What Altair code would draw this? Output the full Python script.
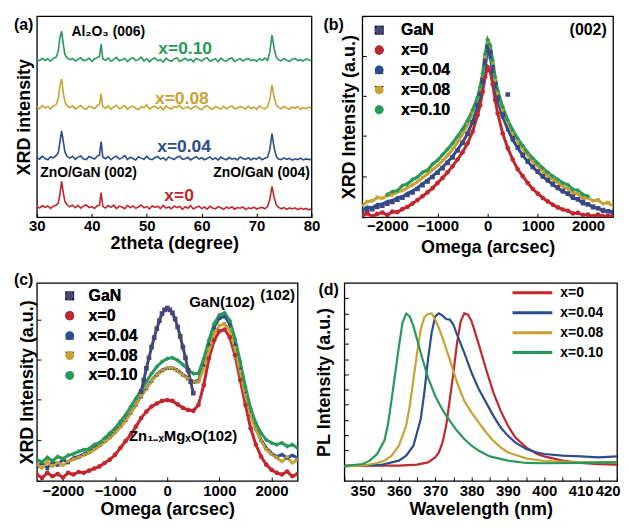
import math
import altair as alt
import pandas as pd

FONT = "Liberation Sans"
SERIES = ["GaN", "x=0", "x=0.04", "x=0.08", "x=0.10"]
COLORS = ["#46467a", "#c1272d", "#2b4c8f", "#c9a233", "#27995a"]
SHAPES = ["square", "circle", "triangle-up", "triangle-down", "diamond"]

# ---------------- panel (a): XRD 2theta scans (offset traces) ----------------
A_X = [30.0, 30.5, 31.0, 31.5, 32.0, 32.5, 33.0, 33.5, 33.9, 34.2, 34.5, 34.8, 35.1, 35.5,
       36.0, 36.5, 37.0, 37.5, 38.0, 38.5, 39.0, 39.5, 40.0, 40.5, 41.0, 41.4, 41.7, 42.0,
       42.5, 43.0, 43.5, 44.0, 44.5, 45.0, 45.5, 46.0, 46.5, 47.0, 47.5, 48.0, 48.5, 49.0,
       49.5, 50.0, 50.5, 51.0, 51.5, 52.0, 52.5, 53.0, 53.5, 54.0, 54.5, 55.0, 55.5, 56.0,
       56.5, 57.0, 57.5, 58.0, 58.5, 59.0, 59.5, 60.0, 60.5, 61.0, 61.5, 62.0, 62.5, 63.0,
       63.5, 64.0, 64.5, 65.0, 65.5, 66.0, 66.5, 67.0, 67.5, 68.0, 68.5, 69.0, 69.5, 70.0,
       70.5, 71.0, 71.5, 72.0, 72.4, 72.8, 73.2, 73.6, 74.0, 74.5, 75.0, 75.5, 76.0, 76.5,
       77.0, 77.5, 78.0, 78.5, 79.0, 79.5, 80.0]
A_X0 = [5.4, 4.6, 5.8, 4.9, 5.6, 4.4, 5.5, 5.9,
        7.0, 11.5, 17.8, 12.5, 7.8, 6.2,
        5.2, 6.0, 4.7, 5.9, 4.5, 5.6, 6.1, 4.8, 5.3, 4.4, 5.7,
        6.0, 12.2, 5.4,
        4.6, 5.8, 4.9, 6.0, 4.3, 5.5, 5.1, 4.2, 5.9, 4.8,
        5.6, 4.4, 5.2, 6.1, 4.7, 5.3, 4.1, 5.7, 4.9, 5.5,
        4.3, 5.9, 4.6, 5.1, 4.2, 5.6, 4.8, 5.4, 3.9, 5.2,
        4.5, 5.8, 4.1, 4.9, 5.5, 4.3, 5.1, 4.0, 5.4, 4.6,
        4.2, 5.3, 4.7, 3.9, 5.0, 4.4, 5.2, 4.0, 4.8, 4.5,
        5.1, 3.8, 4.7, 4.3, 5.0, 4.1, 4.6, 4.9, 4.2, 5.3,
        8.8, 15.3, 9.8, 6.0,
        4.9, 4.2, 4.8, 3.9, 4.6, 4.1, 4.7, 3.8, 4.5, 4.0, 4.4, 3.7, 4.2]
A_X04 = [29.8, 28.9, 30.4, 29.2, 28.6, 30.1, 29.5, 30.6,
         32.0, 37.5, 43.0, 38.0, 32.5, 30.2,
         29.4, 30.3, 28.8, 29.9, 30.5, 29.0, 28.7, 30.2, 29.6, 28.9, 30.4,
         30.8, 37.6, 30.0,
         29.1, 30.2, 28.6, 29.8, 30.4, 28.9, 29.5, 30.6, 28.7, 29.9,
         29.2, 28.5, 30.1, 29.4, 28.8, 30.3, 29.0, 28.6, 29.7, 30.2,
         28.9, 29.6, 28.4, 30.0, 29.3, 28.7, 29.9, 30.4, 28.8, 29.1,
         29.8, 28.5, 29.4, 30.1, 28.9, 29.6, 28.6, 29.2, 30.0, 28.7,
         29.5, 28.4, 29.9, 29.1, 28.6, 29.7, 28.9, 29.3, 28.5, 30.0,
         29.2, 28.8, 29.6, 28.5, 29.4, 28.9, 29.8, 28.6, 29.3, 29.9,
         33.5, 41.6, 34.5, 30.2,
         29.0, 28.6, 29.5, 28.8, 29.3, 28.4, 29.1, 28.7, 29.4, 28.5, 29.0, 28.8, 28.6]
A_X08 = [54.9, 54.0, 55.6, 54.3, 55.1, 53.9, 55.4, 56.0,
         59.0, 65.5, 68.8, 62.0, 57.5, 55.5,
         54.6, 55.3, 53.9, 54.8, 55.6, 54.1, 53.8, 55.2, 54.7, 54.0, 55.5,
         56.2, 61.4, 55.0,
         54.2, 55.4, 53.8, 54.9, 55.7, 54.0, 54.6, 55.5, 53.7, 54.8,
         55.3, 54.1, 53.6, 55.0, 54.4, 55.8, 53.9, 54.7, 55.2, 54.0,
         54.9, 53.5, 55.4, 54.3, 53.8, 55.1, 54.6, 55.6, 53.9, 54.4,
         55.0, 53.7, 54.8, 55.3, 54.1, 53.6, 54.9, 55.5, 54.2, 53.8,
         55.1, 54.5, 53.7, 55.2, 54.0, 54.7, 55.4, 53.9, 54.3, 55.0,
         54.6, 53.8, 55.2, 54.1, 54.8, 53.7, 55.3, 54.4, 53.9, 54.9,
         58.5, 65.8, 59.5, 55.8,
         54.6, 53.9, 55.1, 54.3, 53.8, 54.9, 54.2, 55.0, 53.7, 54.5, 54.0, 54.8, 54.2]
A_X10 = [78.5, 77.9, 79.1, 78.0, 78.8, 77.6, 79.0, 79.6,
         82.5, 89.5, 92.6, 86.5, 81.0, 79.2,
         78.4, 79.0, 77.7, 78.6, 79.3, 77.9, 78.2, 79.1, 77.5, 78.7, 79.4,
         80.0, 86.1, 78.8,
         78.1, 79.2, 77.6, 78.5, 79.5, 77.8, 78.3, 79.0, 77.4, 78.7,
         79.3, 77.9, 78.4, 79.6, 77.7, 78.9, 77.3, 78.6, 79.2, 77.8,
         78.5, 77.2, 79.0, 78.1, 77.6, 78.8, 79.4, 77.5, 78.2, 79.1,
         77.9, 78.6, 77.3, 79.0, 78.4, 77.7, 78.9, 79.3, 77.6, 78.2,
         78.8, 77.4, 79.1, 78.0, 77.8, 78.7, 79.2, 77.5, 78.3, 78.9,
         77.7, 78.5, 79.0, 77.9, 78.4, 77.6, 78.8, 78.1, 79.2, 78.0,
         82.0, 90.6, 84.0, 79.5,
         78.3, 77.8, 78.9, 78.1, 77.5, 78.6, 79.0, 77.9, 78.4, 77.7, 78.8, 78.2, 78.0]
A_TICKS = [30, 35, 40, 45, 50, 55, 60, 65, 70, 75, 80]
A_LAB_T = ["x=0.10", "x=0.08", "x=0.04", "x=0"]
A_LAB_X = [57.0, 56.4, 56.8, 55.9]
A_LAB_Y = [83.7, 58.9, 35.1, 10.4]
A_NOTE_T = ["Al\u2082O\u2083 (006)", "ZnO/GaN (002)", "ZnO/GaN (004)"]
A_NOTE_X = [43.0, 39.4, 70.9]
A_NOTE_Y = [92.1, 21.8, 21.8]

# ---------------- panel (b): (002) rocking curves, log10 intensity ----------------
B_X = [-2500, -2400, -2300, -2200, -2100, -2000, -1900, -1800, -1700, -1600, -1500, -1400,
       -1300, -1200, -1100, -1000, -900, -800, -700, -600, -500, -400, -300, -200, -150,
       -100, -50, 0, 50, 100, 150, 200, 300, 400, 500, 600, 700, 800, 900, 1000, 1100, 1200,
       1300, 1400, 1500, 1600, 1700, 1800, 1900, 2000, 2100, 2200, 2300, 2400, 2500]
B_GAN = [0.12, 0.16, 0.19, 0.24, 0.27, 0.32, 0.36, 0.41, 0.46, 0.52, 0.58, 0.66, 0.75, 0.84,
         0.94, 1.04, 1.15, 1.27, 1.40, 1.56, 1.74, 1.95, 2.22, 2.62, 2.87, 3.20, 3.65, 3.98,
         3.85, 3.50, 3.12, 2.80, 2.40, 2.87, 1.85, 1.64, 1.46, 1.31, 1.18, 1.07, 0.96, 0.87,
         0.78, 0.70, 0.62, 0.55, 0.48, 0.42, 0.36, 0.30, 0.25, 0.21, 0.17, 0.14, 0.12]
B_X0 = [0.04, 0.09, 0.02, 0.08, 0.11, 0.05, 0.13, 0.12, 0.19, 0.24, 0.32, 0.40, 0.49, 0.58,
        0.68, 0.80, 0.92, 1.05, 1.19, 1.35, 1.52, 1.73, 2.00, 2.39, 2.62, 2.93, 3.28, 3.51,
        3.42, 3.11, 2.74, 2.43, 1.96, 1.62, 1.35, 1.12, 0.96, 0.80, 0.66, 0.55, 0.45, 0.37,
        0.29, 0.23, 0.18, 0.15, 0.09, 0.10, 0.05, 0.06, 0.02, 0.06, 0.02, 0.03, 0.01]
B_X04 = [0.18, 0.24, 0.22, 0.30, 0.31, 0.37, 0.39, 0.46, 0.48, 0.56, 0.61, 0.69, 0.78, 0.86,
         0.96, 1.06, 1.17, 1.29, 1.42, 1.58, 1.75, 1.96, 2.23, 2.62, 2.85, 3.16, 3.59, 3.90,
         3.76, 3.42, 3.05, 2.74, 2.35, 2.06, 1.81, 1.62, 1.44, 1.30, 1.17, 1.06, 0.95, 0.86,
         0.76, 0.68, 0.60, 0.55, 0.45, 0.42, 0.32, 0.31, 0.23, 0.22, 0.14, 0.15, 0.10]
B_X08 = [0.27, 0.36, 0.38, 0.46, 0.44, 0.51, 0.52, 0.59, 0.62, 0.69, 0.75, 0.83, 0.92, 1.01,
         1.11, 1.20, 1.32, 1.44, 1.59, 1.75, 1.94, 2.16, 2.43, 2.78, 3.01, 3.32, 3.74, 4.09,
         3.98, 3.60, 3.20, 2.89, 2.50, 2.21, 1.96, 1.77, 1.59, 1.44, 1.30, 1.19, 1.07, 0.97,
         0.88, 0.80, 0.72, 0.66, 0.57, 0.54, 0.45, 0.45, 0.38, 0.40, 0.31, 0.34, 0.26]
B_X10 = [None, None, None, None, None, 0.53, 0.60, 0.62, 0.74, 0.78, 0.88, 0.94, 1.05, 1.10,
         1.24, 1.33, 1.46, 1.59, 1.73, 1.89, 2.06, 2.26, 2.51, 2.81, 3.05, 3.36, 3.82, 4.15,
         4.02, 3.67, 3.28, 2.97, 2.58, 2.27, 2.04, 1.84, 1.67, 1.51, 1.38, 1.26, 1.15, 1.05,
         0.96, 0.88, 0.80, 0.76, 0.65, 0.63, 0.53, 0.49, None, None, None, None, None]

# ---------------- panel (c): (102) rocking curves, log10 intensity ----------------
C_X = [-2500, -2400, -2300, -2200, -2100, -2000, -1900, -1800, -1700, -1600, -1500, -1400,
       -1300, -1200, -1100, -1000, -900, -800, -700, -600, -500, -400, -300, -200, -100, 0,
       100, 200, 300, 400, 500, 600, 700, 800, 900, 1000, 1100, 1200, 1300, 1400, 1500, 1600,
       1700, 1800, 1900, 2000, 2100, 2200, 2300, 2400, 2500]
C_X0 = [0.15, 0.07, 0.19, 0.11, 0.16, 0.08, 0.19, 0.15, 0.21, 0.19, 0.24, 0.29, 0.34, 0.42,
        0.50, 0.61, 0.77, 0.93, 1.08, 1.27, 1.47, 1.62, 1.74, 1.81, 1.87, 1.89, 1.87, 1.79,
        1.71, 1.66, 1.64, 1.78, 2.24, 2.86, 3.29, 3.50, 3.54, 3.36, 2.94, 2.36, 1.78, 1.23,
        0.85, 0.57, 0.38, 0.26, 0.19, 0.15, 0.22, 0.11, 0.16]
C_X04 = [0.34, 0.42, 0.30, 0.45, 0.38, 0.50, 0.44, 0.54, 0.57, 0.63, 0.69, 0.77, 0.85, 0.94,
         1.04, 1.16, 1.29, 1.43, 1.60, 1.79, 1.98, 2.17, 2.35, 2.49, 2.59, 2.64, 2.64, 2.59,
         2.49, 2.40, 2.32, 2.35, 2.71, 3.21, 3.60, 3.81, 3.85, 3.67, 3.21, 2.63, 2.05, 1.58,
         1.23, 0.96, 0.77, 0.65, 0.57, 0.62, 0.54, 0.60, 0.54]
C_X08 = [0.38, 0.30, 0.44, 0.34, 0.42, 0.36, 0.45, 0.50, 0.54, 0.60, 0.65, 0.73, 0.81, 0.91,
         1.00, 1.12, 1.25, 1.40, 1.58, 1.77, 1.97, 2.16, 2.33, 2.47, 2.57, 2.63, 2.63, 2.57,
         2.47, 2.38, 2.30, 2.31, 2.63, 3.05, 3.44, 3.63, 3.67, 3.52, 3.09, 2.55, 2.00, 1.54,
         1.20, 0.93, 0.73, 0.62, 0.54, 0.45, 0.55, 0.42, 0.50]
C_X10 = [0.50, 0.44, 0.55, 0.47, 0.57, 0.52, 0.60, 0.63, 0.69, 0.73, 0.75, 0.85, 0.89, 1.00,
         1.12, 1.23, 1.39, 1.54, 1.74, 1.93, 2.12, 2.32, 2.51, 2.67, 2.79, 2.86, 2.88, 2.82,
         2.72, 2.60, 2.51, 2.51, 2.86, 3.29, 3.67, 3.88, 3.93, 3.75, 3.33, 2.79, 2.20, 1.70,
         1.35, 1.12, 0.96, 0.89, 0.85, 0.89, 0.81, 0.85, 0.77]
C_GAN_X = [-500, -450, -400, -350, -300, -250, -200, -150, -100, -50, 0, 50, 100, 150, 200,
           250, 300, 350, 400, 450, 500]
C_GAN = [2.09, 2.36, 2.63, 2.88, 3.13, 3.35, 3.56, 3.75, 3.91, 4.00, 4.04, 4.00, 3.93, 3.79,
         3.60, 3.38, 3.13, 2.88, 2.59, 2.32, 2.05]
C_NOTE_T = ["GaN(102)", "(102)", "Zn\u2081\u208b\u2093Mg\u2093O(102)"]
C_NOTE_X = [1050, 2118, 305]
C_NOTE_Y = [4.19, 4.35, 1.05]

# ---------------- panel (d): PL spectra ----------------
D_X0 = [345, 360, 365, 368, 370, 371, 372, 373, 374, 375, 376, 377, 378, 379, 380, 381, 382,
        384, 386, 388, 390, 392, 395, 398, 400, 405, 410, 415, 420]
D_Y0 = [1.0, 1.0, 1.07, 1.22, 1.55, 1.87, 2.53, 3.62, 5.36, 7.1, 9.06, 10.48, 11.0, 10.92,
        10.48, 9.72, 8.95, 7.32, 5.8, 4.6, 3.62, 2.86, 2.2, 1.77, 1.61, 1.33, 1.18, 1.11, 1.07]
D_X04 = [345, 355, 360, 362, 364, 366, 367, 368, 369, 370, 371, 372, 373, 374, 375, 376, 378,
         380, 382, 384, 386, 388, 390, 392, 395, 398, 400, 405, 410, 415, 420]
D_Y04 = [0.97, 1.05, 1.33, 1.66, 2.31, 4.05, 5.8, 7.97, 9.72, 10.8, 11.0, 10.85, 10.63, 10.59,
         10.26, 9.6, 8.41, 7.1, 6.01, 5.14, 4.27, 3.51, 2.96, 2.53, 2.09, 1.87, 1.77, 1.66,
         1.61, 1.55, 1.61]
D_X08 = [345, 350, 354, 356, 358, 360, 362, 363, 364, 365, 366, 367, 368, 369, 370, 371, 372,
         374, 376, 378, 380, 382, 384, 386, 388, 390, 395, 400, 405, 410, 420]
D_Y08 = [0.97, 1.0, 1.18, 1.33, 1.66, 2.31, 3.62, 4.93, 6.67, 8.41, 9.93, 10.76, 10.96, 11.0,
         10.59, 10.04, 9.39, 7.97, 6.45, 5.25, 4.49, 3.83, 3.18, 2.63, 2.2, 1.87, 1.48, 1.31,
         1.26, 1.22, 1.26]
D_X10 = [345, 350, 352, 354, 356, 357, 358, 359, 360, 361, 362, 363, 364, 365, 366, 368, 370,
         372, 374, 376, 378, 380, 382, 385, 390, 395, 400, 410, 420]
D_Y10 = [0.97, 1.11, 1.33, 1.76, 2.63, 3.7, 5.36, 7.1, 8.8, 10.4, 10.98, 10.8, 10.15, 9.28,
         8.41, 6.78, 5.58, 4.66, 3.94, 3.29, 2.75, 2.31, 1.98, 1.61, 1.33, 1.18, 1.16, 1.18, 1.22]

# ---------------- helpers ----------------
color_scale = alt.Scale(domain=SERIES, range=COLORS)
shape_scale = alt.Scale(domain=SERIES, range=SHAPES)


def long_df(pairs):
    rows = []
    for name, xs, ys in pairs:
        assert len(xs) == len(ys), name
        for x, y in zip(xs, ys):
            if y is not None:
                rows.append({"x": x, "y": y, "s": name})
    return pd.DataFrame(rows)


def panel_label(t, dx, dy):
    return alt.Chart(pd.DataFrame({"t": [t]})).mark_text(
        align="left", baseline="top", fontSize=16, fontWeight="bold", font=FONT,
        color="black"
    ).encode(x=alt.value(dx), y=alt.value(dy), text="t:N")


def notes(xs, ys, ts, size, color="black"):
    df = pd.DataFrame({"x": xs, "y": ys, "t": ts})
    return alt.Chart(df).mark_text(fontSize=size, fontWeight="bold", font=FONT,
                                   color=color).encode(x="x:Q", y="y:Q", text="t:N")


def log_ticks(top):
    return [round(math.log10(k * 10 ** n), 4) for n in range(0, 5) for k in range(1, 10)
            if math.log10(k * 10 ** n) <= top]


def sym_legend(lx, ly, offset):
    return alt.Legend(title=None, orient="none", legendX=lx, legendY=ly, padding=0,
                      labelFont=FONT, labelFontSize=16, labelFontWeight="bold",
                      labelColor="black", symbolSize=80, symbolStrokeWidth=0,
                      labelOffset=offset, rowPadding=4, labelLimit=200)


def omega_axis(label_pad, title_pad):
    return alt.Axis(values=[-2000, -1000, 0, 1000, 2000], format="d", labelOverlap=False,
                    labelFlush=False, title="Omega (arcsec)", offset=-4, tickSize=4,
                    labelPadding=label_pad, titlePadding=title_pad)


# ---------------- panel (a) ----------------
df_a = long_df([("x=0", A_X, A_X0), ("x=0.04", A_X, A_X04),
                ("x=0.08", A_X, A_X08), ("x=0.10", A_X, A_X10)])
xa = alt.X("x:Q", scale=alt.Scale(domain=[30, 80], nice=False, zero=False),
           axis=alt.Axis(values=A_TICKS, labelExpr="datum.value % 10 == 0 ? datum.label : ''",
                         labelOverlap=False, labelFlush=False, title="2theta (degree)",
                         offset=-4, tickSize=4, labelPadding=1, titlePadding=1))
ya = alt.Y("y:Q", scale=alt.Scale(domain=[0, 100], nice=False),
           axis=alt.Axis(labels=False, ticks=False, title="XRD intensity", titlePadding=3,
                         minExtent=0))
lines_a = alt.Chart(df_a).mark_line(strokeWidth=1.6, clip=True).encode(
    x=xa, y=ya, color=alt.Color("s:N", scale=color_scale, legend=None))
lab_a = alt.Chart(pd.DataFrame({"x": A_LAB_X, "y": A_LAB_Y, "t": A_LAB_T, "s": A_LAB_T})).mark_text(
    fontSize=17.5, fontWeight="bold", font=FONT).encode(
    x="x:Q", y="y:Q", text="t:N", color=alt.Color("s:N", scale=color_scale, legend=None))
chart_a = alt.layer(lines_a, lab_a, notes(A_NOTE_X, A_NOTE_Y, A_NOTE_T, 14),
                    panel_label("(a)", -23, 1)).properties(width=276, height=202)

# ---------------- panel (b) ----------------
df_b = long_df([("GaN", B_X, B_GAN), ("x=0", B_X, B_X0), ("x=0.04", B_X, B_X04),
                ("x=0.08", B_X, B_X08), ("x=0.10", B_X, B_X10)])
xb = alt.X("x:Q", scale=alt.Scale(domain=[-2500, 2500], nice=False), axis=omega_axis(1, 5))
yb = alt.Y("y:Q", scale=alt.Scale(domain=[0, 4.7], nice=False, zero=False),
           axis=alt.Axis(values=log_ticks(4.7), labels=False, title="XRD Intensity (a.u.)",
                         offset=-4, tickSize=4, titlePadding=3, minExtent=0))
leg_b = sym_legend(9, 6, 14)
line_b = alt.Chart(df_b[df_b.s != "GaN"]).mark_line(strokeWidth=3, clip=True).encode(
    x=xb, y=yb, color=alt.Color("s:N", scale=color_scale, legend=None))
pts_b = alt.Chart(df_b).mark_point(filled=True, size=22, opacity=1, clip=True).encode(
    x="x:Q", y="y:Q", color=alt.Color("s:N", scale=color_scale, legend=leg_b),
    shape=alt.Shape("s:N", scale=shape_scale, legend=leg_b))
chart_b = alt.layer(line_b, pts_b, notes([2004], [4.37], ["(002)"], 16),
                    panel_label("(b)", -39, 1)).resolve_legend(
    color="independent").properties(width=252, height=202)

# ---------------- panel (c) ----------------
df_c = long_df([("x=0", C_X, C_X0), ("x=0.04", C_X, C_X04), ("x=0.08", C_X, C_X08),
                ("x=0.10", C_X, C_X10), ("GaN", C_GAN_X, C_GAN)])
xc = alt.X("x:Q", scale=alt.Scale(domain=[-2500, 2500], nice=False), axis=omega_axis(3, 2))
yc = alt.Y("y:Q", scale=alt.Scale(domain=[0, 4.63], nice=False, zero=False),
           axis=alt.Axis(values=log_ticks(4.63), labels=False, title="XRD Intensity (a.u.)",
                         offset=-4, tickSize=4, titlePadding=0, minExtent=0))
leg_c = sym_legend(25, 5, 11)
line_c = alt.Chart(df_c).mark_line(strokeWidth=3, clip=True).encode(
    x=xc, y=yc, color=alt.Color("s:N", scale=color_scale, legend=None))
pts_c = alt.Chart(df_c).mark_point(filled=True, size=22, opacity=1, clip=True).encode(
    x="x:Q", y="y:Q", color=alt.Color("s:N", scale=color_scale, legend=leg_c),
    shape=alt.Shape("s:N", scale=shape_scale, legend=leg_c))
chart_c = alt.layer(line_c, pts_c, notes(C_NOTE_X, C_NOTE_Y, C_NOTE_T, 15),
                    panel_label("(c)", -23, -11)).resolve_legend(
    color="independent").properties(width=262, height=199)

# ---------------- panel (d) ----------------
df_d = long_df([("x=0", D_X0, D_Y0), ("x=0.04", D_X04, D_Y04),
                ("x=0.08", D_X08, D_Y08), ("x=0.10", D_X10, D_Y10)])
xd = alt.X("x:Q", scale=alt.Scale(domain=[345, 420], nice=False, zero=False),
           axis=alt.Axis(values=list(range(345, 421, 5)),
                         labelExpr="datum.value % 10 == 0 ? datum.label : ''",
                         labelOverlap=False, labelFlush=True, labelFlushOffset=3,
                         title="Wavelength (nm)", offset=-4, tickSize=4, labelPadding=3,
                         titlePadding=2))
yd = alt.Y("y:Q", scale=alt.Scale(domain=[0, 13], nice=False),
           axis=alt.Axis(values=list(range(1, 13)), labels=False, title="PL Intensity (a.u.)",
                         offset=-4, tickSize=4, titlePadding=10, minExtent=0))
# long line symbol (40 px) drawn from a custom path, with a compact row height
leg_d = alt.Legend(title=None, orient="none", legendX=182, legendY=3, padding=0,
                   labelFont=FONT, labelFontSize=14, labelFontWeight="bold", labelColor="black",
                   symbolType="M-40,0H40", symbolSize=1, symbolStrokeWidth=3,
                   labelOffset=21, rowPadding=6, labelLimit=200)
line_d = alt.Chart(df_d).mark_line(strokeWidth=2.2, clip=True).encode(
    x=xd, y=yd, color=alt.Color("s:N", scale=alt.Scale(domain=SERIES[1:], range=COLORS[1:]),
                                legend=leg_d))
chart_d = alt.layer(line_d, panel_label("(d)", -26, -1)).properties(width=274, height=199)

IND = dict(color="independent", shape="independent")
top = alt.hconcat(chart_a, chart_b, spacing=2).resolve_scale(**IND).resolve_legend(**IND)
bottom = alt.hconcat(chart_c, chart_d, spacing=16).resolve_scale(**IND).resolve_legend(**IND)
chart = alt.concat(top, bottom, columns=1, align="none", spacing=14).resolve_scale(
    **IND).resolve_legend(**IND).properties(
    padding={"left": 5, "top": 5, "right": 0, "bottom": 0})
chart = chart.configure(font=FONT).configure_view(stroke="black", strokeWidth=1.3).configure_axis(
    labelFont=FONT, labelFontSize=15, labelFontWeight="bold", labelColor="black",
    titleFont=FONT, titleFontSize=18, titleFontWeight="bold", titleColor="black",
    tickColor="black", tickWidth=1, grid=False, domain=False)

chart.save("out.html", embed_options={"renderer": "svg", "actions": False})
